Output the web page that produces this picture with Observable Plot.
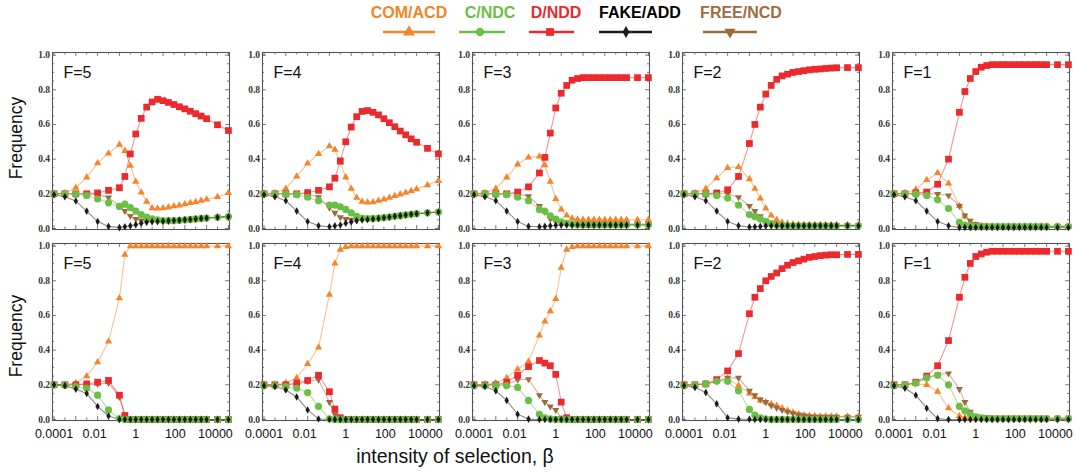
<!DOCTYPE html>
<html><head><meta charset="utf-8">
<script src="https://cdn.jsdelivr.net/npm/d3@7"></script>
<script src="https://cdn.jsdelivr.net/npm/@observablehq/plot@0.6"></script>
<style>
body{margin:0;background:#fff;}
#chart{position:relative;width:1078px;height:473px;overflow:hidden;background:#fff;font-family:"Liberation Sans",Arial,sans-serif;}
.panel{position:absolute;}
</style></head><body><div id="chart"></div>
<script>
// ---------- data ----------
const beta = [0.0001,0.000316,0.001,0.00316,0.01,0.0316,0.1,0.178,0.316,0.562,1,1.78,3.16,5.62,10,17.8,31.6,56.2,100,178,316,562,1000,3162,10000];
const seriesNames = ["COM/ACD","C/NDC","D/NDD","FAKE/ADD","FREE/NCD"];
const seriesColors = ["#f5842a","#6bbf44","#ec2a2d","#1c1c1c","#9c6a3c"];
const Fvalues = [5,4,3,2,1];
const xTickValues = [0.0001,0.01,1,100,10000];
const xTickLabels = ["0.0001","0.01","1","100","10000"];
const yTickValues = [0,0.2,0.4,0.6,0.8,1];

// top row (series: COM, NDC, NDD, ADD, NCD)
const t5_com = [0.2,0.205,0.235,0.295,0.377,0.433,0.483,0.448,0.362,0.27,0.208,0.155,0.117,0.115,0.117,0.122,0.128,0.133,0.14,0.147,0.153,0.16,0.167,0.182,0.205];
const t5_ndc = [0.2,0.2,0.198,0.19,0.17,0.148,0.127,0.14,0.12,0.1,0.08,0.065,0.055,0.05,0.046,0.045,0.045,0.047,0.05,0.052,0.055,0.058,0.06,0.064,0.068];
const t5_ndd = [0.2,0.2,0.2,0.2,0.205,0.22,0.235,0.3,0.43,0.545,0.635,0.7,0.73,0.745,0.737,0.727,0.715,0.702,0.69,0.676,0.662,0.648,0.633,0.598,0.565];
const t5_add = [0.195,0.183,0.158,0.1,0.04,0.012,0.005,0.01,0.015,0.022,0.03,0.036,0.04,0.041,0.042,0.044,0.046,0.048,0.05,0.052,0.055,0.058,0.06,0.064,0.068];
const t5_ncd = [0.2,0.2,0.2,0.2,0.195,0.178,0.13,0.1,0.072,0.055,0.046,0.041,0.04,0.041,0.042,0.044,0.046,0.048,0.05,0.052,0.055,0.058,0.06,0.064,0.068];

const t4_com = [0.2,0.205,0.23,0.3,0.375,0.43,0.475,0.455,0.38,0.295,0.23,0.178,0.155,0.15,0.152,0.16,0.168,0.178,0.188,0.197,0.207,0.217,0.227,0.25,0.275];
const t4_ndc = [0.2,0.2,0.198,0.195,0.18,0.16,0.135,0.135,0.125,0.11,0.09,0.07,0.06,0.057,0.058,0.06,0.063,0.066,0.07,0.074,0.078,0.082,0.085,0.09,0.095];
const t4_ndd = [0.2,0.2,0.2,0.2,0.207,0.22,0.24,0.29,0.39,0.5,0.585,0.645,0.675,0.68,0.67,0.655,0.633,0.61,0.587,0.562,0.54,0.517,0.497,0.462,0.43];
const t4_add = [0.195,0.183,0.16,0.1,0.04,0.015,0.01,0.015,0.02,0.03,0.037,0.045,0.05,0.052,0.055,0.058,0.062,0.066,0.07,0.074,0.078,0.082,0.085,0.09,0.095];
const t4_ncd = [0.2,0.2,0.2,0.2,0.2,0.18,0.12,0.09,0.065,0.055,0.05,0.049,0.051,0.053,0.056,0.059,0.063,0.067,0.071,0.075,0.079,0.083,0.086,0.091,0.096];

const t3_com = [0.2,0.205,0.23,0.295,0.37,0.41,0.415,0.365,0.27,0.17,0.11,0.075,0.058,0.052,0.05,0.05,0.05,0.05,0.05,0.05,0.05,0.05,0.05,0.05,0.05];
const t3_ndc = [0.2,0.2,0.198,0.195,0.18,0.16,0.11,0.1,0.073,0.054,0.038,0.03,0.025,0.022,0.02,0.02,0.02,0.02,0.02,0.02,0.02,0.02,0.02,0.02,0.02];
const t3_ndd = [0.2,0.2,0.2,0.2,0.21,0.24,0.32,0.41,0.55,0.695,0.78,0.825,0.855,0.865,0.87,0.87,0.87,0.87,0.87,0.87,0.87,0.87,0.87,0.87,0.87];
const t3_add = [0.195,0.183,0.16,0.1,0.04,0.012,0.01,0.012,0.015,0.018,0.02,0.02,0.02,0.02,0.02,0.02,0.02,0.02,0.02,0.02,0.02,0.02,0.02,0.02,0.02];
const t3_ncd = [0.2,0.2,0.2,0.2,0.2,0.185,0.13,0.095,0.055,0.04,0.03,0.027,0.025,0.025,0.025,0.025,0.025,0.025,0.025,0.025,0.025,0.025,0.025,0.025,0.025];

const t2_com = [0.2,0.205,0.23,0.29,0.35,0.355,0.285,0.23,0.173,0.115,0.075,0.05,0.035,0.028,0.025,0.022,0.02,0.02,0.02,0.02,0.02,0.02,0.02,0.02,0.02];
const t2_ndc = [0.2,0.2,0.198,0.19,0.175,0.135,0.08,0.067,0.055,0.04,0.028,0.02,0.017,0.015,0.015,0.015,0.015,0.015,0.015,0.015,0.015,0.015,0.015,0.015,0.015];
const t2_ndd = [0.2,0.2,0.2,0.205,0.223,0.3,0.49,0.6,0.7,0.775,0.825,0.86,0.88,0.89,0.9,0.905,0.91,0.915,0.918,0.92,0.923,0.925,0.927,0.928,0.928];
const t2_add = [0.195,0.183,0.16,0.1,0.04,0.015,0.008,0.01,0.012,0.014,0.015,0.015,0.015,0.015,0.015,0.015,0.015,0.015,0.015,0.015,0.015,0.015,0.015,0.015,0.015];
const t2_ncd = [0.2,0.2,0.2,0.2,0.2,0.18,0.13,0.1,0.07,0.045,0.03,0.022,0.018,0.018,0.018,0.018,0.018,0.018,0.018,0.018,0.018,0.018,0.018,0.018,0.018];

const t1_com = [0.2,0.205,0.225,0.28,0.32,0.26,0.13,0.07,0.035,0.02,0.015,0.012,0.012,0.012,0.012,0.012,0.012,0.012,0.012,0.012,0.012,0.012,0.012,0.012,0.012];
const t1_ndc = [0.2,0.2,0.198,0.19,0.165,0.115,0.035,0.02,0.015,0.012,0.012,0.012,0.012,0.012,0.012,0.012,0.012,0.012,0.012,0.012,0.012,0.012,0.012,0.012,0.012];
const t1_ndd = [0.2,0.2,0.205,0.21,0.255,0.4,0.67,0.79,0.865,0.905,0.93,0.94,0.945,0.945,0.945,0.945,0.945,0.945,0.945,0.945,0.945,0.945,0.945,0.945,0.945];
const t1_add = [0.195,0.183,0.16,0.1,0.04,0.015,0.006,0.006,0.006,0.006,0.006,0.006,0.006,0.006,0.006,0.006,0.006,0.006,0.006,0.006,0.006,0.006,0.006,0.006,0.006];
const t1_ncd = [0.2,0.2,0.2,0.2,0.198,0.19,0.13,0.075,0.045,0.025,0.018,0.014,0.012,0.012,0.012,0.012,0.012,0.012,0.012,0.012,0.012,0.012,0.012,0.012,0.012];

// bottom row
const b5_com = [0.2,0.2,0.21,0.25,0.33,0.45,0.7,0.95,1,1,1,1,1,1,1,1,1,1,1,1,1,1,1,1,1];
const b5_ndc = [0.2,0.198,0.19,0.18,0.14,0.055,0.005,0,0,0,0,0,0,0,0,0,0,0,0,0,0,0,0,0,0];
const b5_ndd = [0.2,0.2,0.2,0.205,0.215,0.225,0.14,0.023,0,0,0,0,0,0,0,0,0,0,0,0,0,0,0,0,0];
const b5_add = [0.2,0.195,0.175,0.15,0.075,0.02,0,0,0,0,0,0,0,0,0,0,0,0,0,0,0,0,0,0,0];
const b5_ncd = [0.2,0.2,0.2,0.2,0.205,0.21,0.13,0.02,0,0,0,0,0,0,0,0,0,0,0,0,0,0,0,0,0];

const b4_com = [0.2,0.2,0.21,0.24,0.32,0.415,0.72,0.9,0.98,0.995,1,1,1,1,1,1,1,1,1,1,1,1,1,1,1];
const b4_ndc = [0.195,0.195,0.19,0.18,0.155,0.075,0.004,0,0,0,0,0,0,0,0,0,0,0,0,0,0,0,0,0,0];
const b4_ndd = [0.2,0.2,0.2,0.21,0.225,0.255,0.16,0.06,0.01,0,0,0,0,0,0,0,0,0,0,0,0,0,0,0,0];
const b4_add = [0.195,0.19,0.17,0.13,0.055,0.003,0,0,0,0,0,0,0,0,0,0,0,0,0,0,0,0,0,0,0];
const b4_ncd = [0.2,0.2,0.2,0.2,0.22,0.23,0.1,0.03,0.005,0,0,0,0,0,0,0,0,0,0,0,0,0,0,0,0];

const b3_com = [0.2,0.2,0.21,0.24,0.29,0.335,0.485,0.565,0.625,0.695,0.875,0.98,0.995,1,1,1,1,1,1,1,1,1,1,1,1];
const b3_ndc = [0.195,0.195,0.195,0.195,0.185,0.11,0.03,0.01,0.003,0,0,0,0,0,0,0,0,0,0,0,0,0,0,0,0];
const b3_ndd = [0.2,0.2,0.2,0.215,0.255,0.305,0.34,0.325,0.31,0.26,0.1,0.01,0,0,0,0,0,0,0,0,0,0,0,0,0];
const b3_add = [0.195,0.19,0.165,0.11,0.03,0.002,0,0,0,0,0,0,0,0,0,0,0,0,0,0,0,0,0,0,0];
const b3_ncd = [0.2,0.2,0.2,0.2,0.23,0.232,0.14,0.1,0.075,0.055,0.01,0,0,0,0,0,0,0,0,0,0,0,0,0,0];

const b2_com = [0.2,0.2,0.205,0.22,0.235,0.195,0.15,0.13,0.11,0.1,0.09,0.08,0.065,0.05,0.04,0.03,0.025,0.022,0.02,0.018,0.018,0.018,0.018,0.018,0.018];
const b2_ndc = [0.195,0.2,0.205,0.22,0.22,0.165,0.058,0.025,0.01,0.004,0,0,0,0,0,0,0,0,0,0,0,0,0,0,0];
const b2_ndd = [0.2,0.2,0.205,0.23,0.28,0.38,0.61,0.705,0.755,0.8,0.825,0.845,0.87,0.89,0.905,0.915,0.925,0.935,0.94,0.945,0.948,0.95,0.95,0.952,0.952];
const b2_add = [0.195,0.185,0.155,0.09,0.01,0.002,0.001,0,0,0,0,0,0,0,0,0,0,0,0,0,0,0,0,0,0];
const b2_ncd = [0.2,0.2,0.205,0.22,0.24,0.24,0.165,0.14,0.115,0.1,0.08,0.067,0.055,0.045,0.035,0.028,0.022,0.018,0.015,0.015,0.015,0.015,0.015,0.015,0.015];

const b1_com = [0.2,0.2,0.205,0.2,0.16,0.065,0.02,0.01,0.006,0.005,0.005,0.005,0.005,0.005,0.005,0.005,0.005,0.005,0.005,0.005,0.005,0.005,0.005,0.005,0.005];
const b1_ndc = [0.195,0.2,0.21,0.24,0.255,0.2,0.075,0.05,0.03,0.015,0.008,0.005,0.005,0.005,0.005,0.005,0.005,0.005,0.005,0.005,0.005,0.005,0.005,0.005,0.005];
const b1_ndd = [0.2,0.2,0.215,0.25,0.31,0.455,0.705,0.82,0.9,0.94,0.955,0.965,0.97,0.97,0.97,0.97,0.97,0.97,0.97,0.97,0.97,0.97,0.97,0.97,0.97];
const b1_add = [0.195,0.18,0.14,0.065,0.005,0,0,0,0,0,0,0,0,0,0,0,0,0,0,0,0,0,0,0,0];
const b1_ncd = [0.2,0.2,0.21,0.24,0.26,0.265,0.175,0.1,0.045,0.02,0.015,0.012,0.01,0.01,0.01,0.01,0.01,0.01,0.01,0.01,0.01,0.01,0.01,0.01,0.01];

const topRow = [
  [t5_com,t5_ndc,t5_ndd,t5_add,t5_ncd],
  [t4_com,t4_ndc,t4_ndd,t4_add,t4_ncd],
  [t3_com,t3_ndc,t3_ndd,t3_add,t3_ncd],
  [t2_com,t2_ndc,t2_ndd,t2_add,t2_ncd],
  [t1_com,t1_ndc,t1_ndd,t1_add,t1_ncd]
];
const bottomRow = [
  [b5_com,b5_ndc,b5_ndd,b5_add,b5_ncd],
  [b4_com,b4_ndc,b4_ndd,b4_add,b4_ncd],
  [b3_com,b3_ndc,b3_ndd,b3_add,b3_ncd],
  [b2_com,b2_ndc,b2_ndd,b2_add,b2_ncd],
  [b1_com,b1_ndc,b1_ndd,b1_add,b1_ncd]
];

// ---------- symbols ----------
const sqrt3 = Math.sqrt(3);
const triangleDown = {draw(ctx, size){
  const y = -Math.sqrt(size / (sqrt3 * 3));
  ctx.moveTo(0, -y * 2); ctx.lineTo(-sqrt3 * y, y); ctx.lineTo(sqrt3 * y, y); ctx.closePath();
}};
// marker spec per series: COM, NDC, NDD, ADD, NCD
const seriesSymbols = ["triangle","circle","square","diamond",triangleDown];
const seriesR = [2.7,3.6,3.8,2.3,2.6];
const drawOrder = [0,4,2,1,3];

// ---------- layout ----------
const innerW = 177, innerH = 177;
const mL = 30, mR = 4, mT = 4;
const colLeft = [51.5, 261.5, 471.5, 681.5, 891.5];
const rowTop = [52, 242.5];
// small horizontal nudges of the bottom tick labels (as typeset in the reference)
const xLabelNudge = [0, -3, -5.5, -9.5, -13];

const xMajor = [1e-4,1e-3,1e-2,1e-1,1,10,100,1000,10000];
const xMinor = xMajor.slice(0,-1).map(d => d*Math.sqrt(10));
const yMajor = yTickValues;
const yMinor = [0.05,0.1,0.15,0.25,0.3,0.35,0.45,0.5,0.55,0.65,0.7,0.75,0.85,0.9,0.95];

const chart = document.getElementById("chart");

function makePanel(rowIdx, colIdx, arrays){
  const bottom = rowIdx === 1;
  const mB = bottom ? 28 : 4;
  const tickStroke = "#5a5a5a";
  const marks = [
    Plot.tickX(xMajor, {x: d => d, stroke: tickStroke, strokeWidth: 0.8, insetTop: innerH - 4}),
    Plot.tickX(xMajor, {x: d => d, stroke: tickStroke, strokeWidth: 0.8, insetBottom: innerH - 4}),
    Plot.tickX(xMinor, {x: d => d, stroke: tickStroke, strokeWidth: 0.8, insetTop: innerH - 2.5}),
    Plot.tickX(xMinor, {x: d => d, stroke: tickStroke, strokeWidth: 0.8, insetBottom: innerH - 2.5}),
    Plot.tickY(yMajor, {y: d => d, stroke: tickStroke, strokeWidth: 0.8, insetRight: innerW - 4}),
    Plot.tickY(yMajor, {y: d => d, stroke: tickStroke, strokeWidth: 0.8, insetLeft: innerW - 4}),
    Plot.tickY(yMinor, {y: d => d, stroke: tickStroke, strokeWidth: 0.8, insetRight: innerW - 2}),
    Plot.tickY(yMinor, {y: d => d, stroke: tickStroke, strokeWidth: 0.8, insetLeft: innerW - 2}),
    Plot.frame({stroke: "#555", strokeWidth: 1.1}),
    Plot.axisY(yTickValues, {tickSize: 0, tickPadding: 2.5, tickFormat: d3.format(".1f"), fontFamily: "Liberation Serif", fontWeight: "bold", fontSize: 9.5, fill: "#333", label: null})
  ];
  if (bottom) {
    xTickValues.forEach((v, i) => {
      marks.push(Plot.axisX([v], {tickSize: 0, tickPadding: 9, dx: xLabelNudge[i], tickFormat: () => xTickLabels[i], fontFamily: "Liberation Sans", fontSize: 12.5, fill: "#111", label: null}));
    });
  }
  for (const s of drawOrder) {
    const pts = arrays[s].map((v, i) => ({beta: beta[i], freq: v}));
    marks.push(Plot.line(pts, {x: "beta", y: "freq", stroke: seriesColors[s], strokeOpacity: 0.5, strokeWidth: 1.1}));
  }
  for (const s of drawOrder) {
    const pts = arrays[s].map((v, i) => ({beta: beta[i], freq: v}));
    marks.push(Plot.dot(pts, {x: "beta", y: "freq", symbol: seriesSymbols[s], r: seriesR[s], fill: seriesColors[s], stroke: "none"}));
  }
  marks.push(Plot.text(["F=" + Fvalues[colIdx]], {frameAnchor: "top-left", textAnchor: "start", lineAnchor: "bottom", dx: 11, dy: 25, fontSize: 16, fontFamily: "Liberation Sans", fill: "#111"}));

  const svg = Plot.plot({
    width: mL + innerW + mR,
    height: mT + innerH + mB,
    marginLeft: mL, marginRight: mR, marginTop: mT, marginBottom: mB,
    x: {type: "log", domain: [Math.pow(10, -4.07), Math.pow(10, 4.05)], axis: bottom ? undefined : null},
    y: {domain: [-0.006, 1.015]},
    style: {background: "transparent", overflow: "visible", fontFamily: "Liberation Sans"},
    marks
  });
  const wrap = document.createElement("div");
  wrap.className = "panel";
  wrap.style.left = (colLeft[colIdx] - mL) + "px";
  wrap.style.top = (rowTop[rowIdx] - mT) + "px";
  wrap.appendChild(svg);
  chart.appendChild(wrap);
}

topRow.forEach((arr, c) => makePanel(0, c, arr));
bottomRow.forEach((arr, c) => makePanel(1, c, arr));

// ---------- legend & labels ----------
const overlay = d3.select(chart).append("svg")
  .attr("width", 1078).attr("height", 473)
  .style("position", "absolute").style("left", "0px").style("top", "0px")
  .style("pointer-events", "none");

const legendTextX = [409, 490, 556, 640, 741];
const legendLineX = [[383,435],[459,505],[529,574],[599,652],[703,757]];
const legendMarkX = [409, 480, 550, 626, 730];
const legendTextColors = ["#f5842a","#6bbf44","#ec2a2d","#000000","#a06c3e"];
const d3Symbols = [d3.symbolTriangle, d3.symbolCircle, d3.symbolSquare, d3.symbolDiamond, triangleDown];
const legendSizes = [60, 55, 60, 40, 55];

seriesNames.forEach((name, i) => {
  overlay.append("text").attr("x", legendTextX[i]).attr("y", 18)
    .attr("text-anchor", "middle").attr("font-family", "Liberation Sans")
    .attr("font-weight", "bold").attr("font-size", 16).attr("fill", legendTextColors[i]).text(name);
  overlay.append("line").attr("x1", legendLineX[i][0]).attr("x2", legendLineX[i][1])
    .attr("y1", 32).attr("y2", 32).attr("stroke", seriesColors[i]).attr("stroke-width", 2.4);
  overlay.append("path").attr("transform", `translate(${legendMarkX[i]},32)`)
    .attr("d", d3.symbol(d3Symbols[i], legendSizes[i])()).attr("fill", seriesColors[i]);
});

overlay.append("text").attr("transform", "translate(16,138) rotate(-90)")
  .attr("text-anchor", "middle").attr("dominant-baseline", "central")
  .attr("font-family", "Liberation Sans").attr("font-size", 17.5).attr("fill", "#111").text("Frequency");
overlay.append("text").attr("transform", "translate(16,336) rotate(-90)")
  .attr("text-anchor", "middle").attr("dominant-baseline", "central")
  .attr("font-family", "Liberation Sans").attr("font-size", 17.5).attr("fill", "#111").text("Frequency");
overlay.append("text").attr("x", 455).attr("y", 463)
  .attr("text-anchor", "middle").attr("font-family", "Liberation Sans")
  .attr("font-size", 19.5).attr("fill", "#111").text("intensity of selection, β");
</script>
</body></html>
